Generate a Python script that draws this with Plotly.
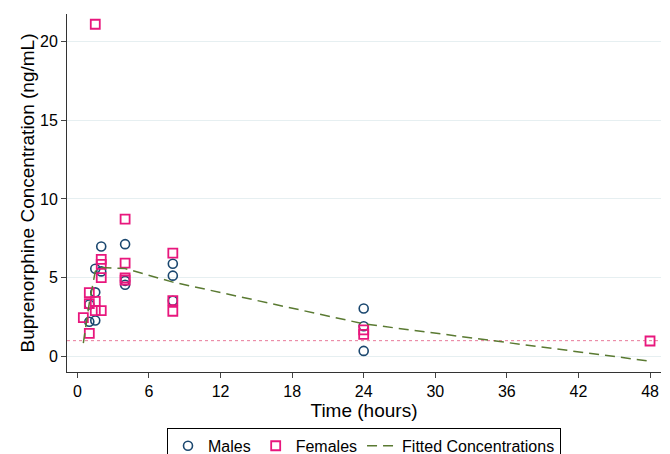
import plotly.graph_objects as go

# Data
male_time = [1, 1, 1.5, 1.5, 1.5, 2, 2, 4, 4, 4, 8, 8, 8, 24, 24, 24]
male_conc = [3.3, 2.2, 5.57, 4.07, 2.28, 6.98, 5.4, 7.13, 4.8, 4.55, 5.89, 5.13, 3.54, 3.04, 1.92, 0.35]

female_time = [0.5, 1, 1, 1, 1.5, 1.5, 1.5, 2, 2, 2, 2, 4, 4, 4, 4, 8, 8, 8, 24, 24, 48]
female_conc = [2.47, 4.05, 3.35, 1.46, 21.1, 3.5, 2.91, 6.17, 5.85, 5.0, 2.91,
               8.72, 5.93, 4.98, 4.85, 6.56, 3.54, 2.87, 1.68, 1.4, 0.98]

fit_time = [0.5, 1, 1.5, 2, 4, 8, 24, 48]
fit_conc = [0.85, 3.4, 5.4, 5.65, 5.58, 4.72, 2.07, -0.3]

lloq = 1.0
x_ticks = [0, 6, 12, 18, 24, 30, 36, 42, 48]
y_ticks = [0, 5, 10, 15, 20]

x_range = [-0.87, 48.92]
y_range = [-0.99, 21.75]

fig = go.Figure()

fig.add_trace(go.Scatter(
    x=x_range, y=[lloq, lloq], mode="lines",
    line=dict(color="#e8799a", width=1, dash="dot"),
    showlegend=False, hoverinfo="skip"))

fig.add_trace(go.Scatter(
    x=male_time, y=male_conc, mode="markers", name="Males",
    marker=dict(symbol="circle-open", size=9, color="#1a476f", line=dict(width=1.6, color="#1a476f"))))

fig.add_trace(go.Scatter(
    x=female_time, y=female_conc, mode="markers", name="Females",
    marker=dict(symbol="square-open", size=9, color="#e8177d", line=dict(width=1.8, color="#e8177d"))))

fig.add_trace(go.Scatter(
    x=fit_time, y=fit_conc, mode="lines", name="Fitted Concentrations",
    line=dict(color="#5a7a32", width=1.5, dash="10px,6px")))

font_family = "Liberation Sans, Arial, sans-serif"

# page body has an 8px margin, so the figure is sized/offset to compensate
fig.update_layout(
    width=662, height=446,
    margin=dict(l=59, r=9, t=6, b=82, autoexpand=False),
    paper_bgcolor="white", plot_bgcolor="white",
    font=dict(family=font_family, size=16, color="black"),
    showlegend=True,
    legend=dict(orientation="h", x=0.5, xanchor="center", y=-0.156, yanchor="top",
                bordercolor="black", borderwidth=1, font=dict(size=16),
                itemwidth=30, traceorder="normal", tracegroupgap=0),
    xaxis=dict(range=x_range, tickvals=x_ticks, ticks="outside", ticklen=5,
               showline=True, linecolor="#333333", linewidth=1, showgrid=False,
               zeroline=False, automargin=False,
               title=dict(text="Time (hours)", standoff=2),
               tickfont=dict(size=16)),
    yaxis=dict(range=y_range, tickvals=y_ticks, ticks="outside", ticklen=5,
               showline=True, linecolor="#333333", linewidth=1, showgrid=True,
               gridcolor="#e6eff1", gridwidth=1, zeroline=False, automargin=False,
               title=dict(text="Buprenorphine Concentration (ng/mL)", standoff=0),
               tickfont=dict(size=16)),
)

fig.write_html("out.html")
